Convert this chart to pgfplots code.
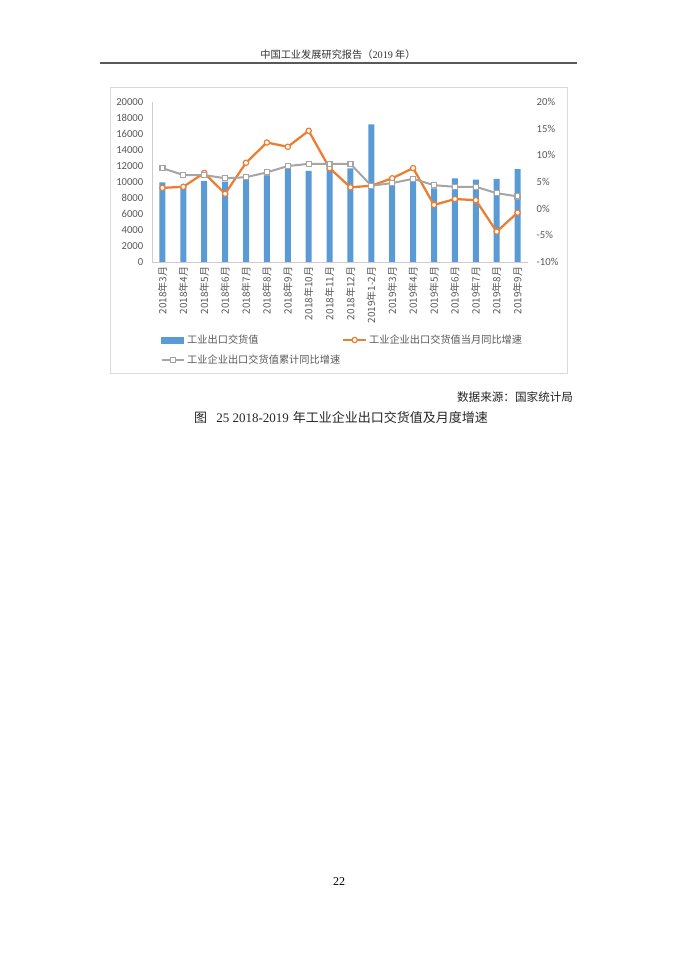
\documentclass[border=0pt]{standalone}
\usepackage{pgfplots}
\pgfplotsset{compat=1.18}
\usepackage{pgfplotstable}
\usepackage{fontspec}
\setmainfont{Carlito}
\newfontfamily\cjk{Noto Sans CJK SC}
\newfontfamily\serif{Liberation Serif}

\definecolor{barblue}{HTML}{5B9BD5}
\definecolor{lineorange}{HTML}{ED7D31}
\definecolor{linegray}{HTML}{A5A5A5}
\definecolor{txtgray}{HTML}{595959}

% idx, export value, monthly yoy (%), cumulative yoy (%)
\pgfplotstableread{
idx bar   cur   cum
0   9950  3.9   7.6
1   9400  4.1   6.3
2   10120 6.7   6.3
3   10050 2.8   5.7
4   10300 8.6   5.9
5   10950 12.4  6.8
6   11700 11.6  8.0
7   11400 14.6  8.4
8   11600 7.6   8.4
9   11700 4.0   8.4
10  17200 4.3   4.3
11  9650  5.7   4.8
12  9980  7.6   5.6
13  9200  0.7   4.4
14  10450 1.8   4.1
15  10300 1.6   4.1
16  10400 -4.3  2.9
17  11600 -0.75 2.3
}\exportdata

\begin{document}
\begin{tikzpicture}
  % page, coordinates in px * 0.75pt
  \fill[white] (0pt,0pt) rectangle (507.75pt,717.75pt);
  \node[text=black!80, font=\fontsize{7.65}{9}\selectfont] at (253.5pt,676.5pt) {\cjk 中国工业发展研究报告（{\serif 2019} 年）};
  \draw[line width=1.1pt, black!65] (75pt,670.5pt) -- (432.75pt,670.5pt);
  \draw[black!15, line width=0.6pt] (82.5pt,652.5pt) rectangle (425.25pt,438pt);
  \node[anchor=east, inner sep=0pt, text=black!85, font=\fontsize{8.7}{10}\selectfont] at (430pt,420pt) {\cjk 数据来源：国家统计局};
  \node[text=black!85, font=\fontsize{9.75}{11}\selectfont] at (255.75pt,404.25pt) {\cjk 图\hspace{0.7em}{\serif 25 2018-2019}\hspace{0.3em}年工业企业出口交货值及月度增速};
  \node[font=\fontsize{9}{10}\selectfont] at (254.25pt,56.25pt) {\serif 22};

  % bars, left axis
  \begin{axis}[
      at={(114pt,521.25pt)}, anchor=south west,
      scale only axis, width=282pt, height=120pt,
      xmin=-0.5, xmax=17.5,
      ymin=0, ymax=20000,
      ytick={0,2000,...,20000},
      xtick={0,...,17},
      xticklabels={2018年3月,2018年4月,2018年5月,2018年6月,2018年7月,2018年8月,2018年9月,2018年10月,2018年11月,2018年12月,2019年1-2月,2019年3月,2019年4月,2019年5月,2019年6月,2019年7月,2019年8月,2019年9月},
      x tick label style={rotate=90, anchor=east, text=txtgray, font=\cjk\fontsize{7.5}{8}\selectfont},
      y tick label style={text=txtgray, font=\fontsize{8}{9}\selectfont, xshift=-3pt},
      /pgf/number format/assume math mode=true,
      /pgf/number format/1000 sep={},
      scaled y ticks=false,
      axis x line*=bottom, axis y line*=left,
      axis line style={draw=black!20, -},
      major tick length=0pt,
    ]
    \addplot[ybar, bar width=4.5pt, fill=barblue, draw=none] table[x=idx, y=bar] {\exportdata};
  \end{axis}

  % growth rates, right axis
  \begin{axis}[
      at={(114pt,521.25pt)}, anchor=south west,
      scale only axis, width=282pt, height=120pt,
      xmin=-0.5, xmax=17.5,
      ymin=-10, ymax=20,
      ytick={-10,-5,...,20},
      yticklabel={\pgfmathprintnumber{\tick}\%},
      y tick label style={text=txtgray, font=\fontsize{8}{9}\selectfont, xshift=3pt},
      /pgf/number format/assume math mode=true,
      axis y line*=right, axis x line=none,
      axis line style={draw=none},
      major tick length=0pt,
      legend columns=2,
      legend cell align=left,
      legend style={at={(0.022,-0.44)}, anchor=north west, draw=none, fill=none,
        inner sep=0pt, row sep=4pt,
        font=\cjk\fontsize{7.65}{9}\selectfont, text=txtgray,
        nodes={inner sep=1.5pt},
        /tikz/every even column/.append style={column sep=0pt}},
      legend image code/.code={\draw[mark repeat=2, mark phase=2, #1] plot coordinates {(0pt,0pt) (8.5pt,0pt) (17pt,0pt)};},
    ]
    \addlegendimage{legend image code/.code={\fill[barblue] (0pt,-2.2pt) rectangle (16pt,2.2pt);}}
    \addlegendentry{工业出口交货值}
    \addplot[color=lineorange, line width=1.7pt, mark=*, mark size=2pt,
      mark options={fill=white, draw=lineorange, line width=0.9pt}]
      table[x=idx, y=cur] {\exportdata};
    \addlegendentry{工业企业出口交货值当月同比增速}
    \addplot[color=linegray, line width=1.5pt, mark=square*, mark size=1.9pt,
      mark options={fill=white, draw=linegray, line width=0.9pt}]
      table[x=idx, y=cum] {\exportdata};
    \addlegendentry{工业企业出口交货值累计同比增速}
  \end{axis}
\end{tikzpicture}
\end{document}
